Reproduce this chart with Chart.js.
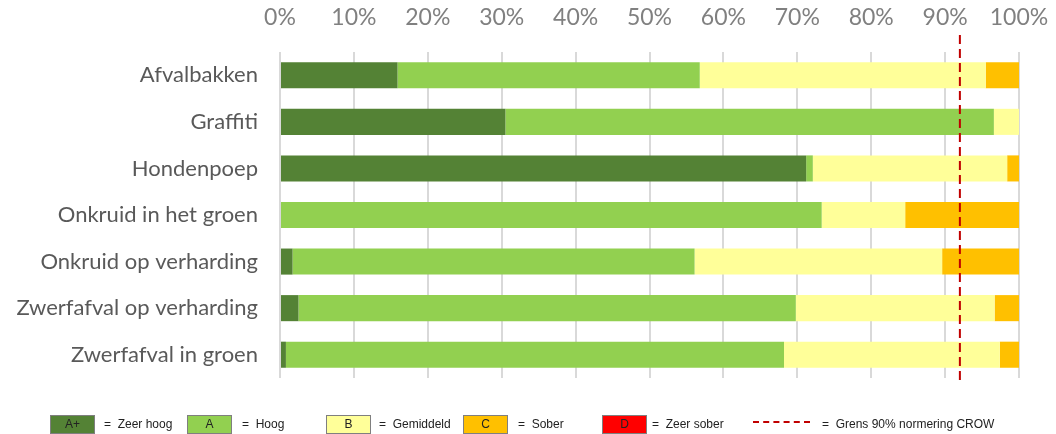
<!DOCTYPE html>
<html>
<head>
<meta charset="utf-8">
<script src="https://cdn.jsdelivr.net/npm/chart.js@4"></script>
<style>
  body { margin: 0; background: #fff; }
  #wrap { position: relative; width: 1056px; height: 434px; }
  .legend { position: absolute; top: 415px; height: 18px; font-family: "Liberation Sans", Arial, sans-serif; font-size: 12px; color: #222; }
  .box { position: absolute; top: 0; width: 43px; height: 17px; border: 1px solid #7f7f7f; text-align: center; line-height: 17px; }
  .txt { position: absolute; top: 0; line-height: 18px; white-space: nowrap; }
  .dash { position: absolute; top: 6px; width: 57px; border-top: 2px dashed #c00000; }
</style>
</head>
<body>
<div id="wrap">
  <canvas id="chart" width="1056" height="434"></canvas>
  <div class="legend" style="left:0;width:1056px">
    <div class="box" style="left:50px;background:#548235">A+</div>
    <div class="txt" style="left:104px">=&nbsp;&nbsp;Zeer hoog</div>
    <div class="box" style="left:187px;background:#92d050">A</div>
    <div class="txt" style="left:242px">=&nbsp;&nbsp;Hoog</div>
    <div class="box" style="left:326px;background:#ffff99">B</div>
    <div class="txt" style="left:379px">=&nbsp;&nbsp;Gemiddeld</div>
    <div class="box" style="left:463px;background:#ffc000">C</div>
    <div class="txt" style="left:518px">=&nbsp;&nbsp;Sober</div>
    <div class="box" style="left:602px;background:#ff0000">D</div>
    <div class="txt" style="left:652px">=&nbsp;&nbsp;Zeer sober</div>
    <div class="dash" style="left:753px"></div>
    <div class="txt" style="left:822px">=&nbsp;&nbsp;Grens 90% normering CROW</div>
  </div>
</div>
<script>
const categories = [
  "Afvalbakken",
  "Graffiti",
  "Hondenpoep",
  "Onkruid in het groen",
  "Onkruid op verharding",
  "Zwerfafval op verharding",
  "Zwerfafval in groen",
];

// percentages per score
const zeerHoog = [15.9, 30.5, 71.2, 0, 1.7, 2.5, 0.8];
const hoog = [40.9, 66.1, 0.9, 73.3, 54.4, 67.3, 67.4];
const gemiddeld = [38.7, 3.4, 26.3, 11.3, 33.5, 26.9, 29.2];
const sober = [4.5, 0, 1.6, 15.4, 10.4, 3.3, 2.6];
const zeerSober = [0, 0, 0, 0, 0, 0, 0];

const xTicks = [0, 10, 20, 30, 40, 50, 60, 70, 80, 90, 100];
const normLine = 92;

const COLORS = {
  aplus: "#548235",
  a: "#92d050",
  b: "#ffff99",
  c: "#ffc000",
  d: "#ff0000",
  grid: "#d9d9d9",
  tick: "#808080",
  label: "#595959",
  norm: "#c00000",
};

const FONT = "Lato, 'Open Sans', sans-serif";

function series(label, data, color) {
  return {
    label,
    data,
    backgroundColor: color,
    borderWidth: 0,
    barPercentage: 1,
    categoryPercentage: 0.56,
  };
}

const normPlugin = {
  id: "normLine",
  afterDatasetsDraw(chart) {
    const x = chart.scales.x.getPixelForValue(normLine);
    const c = chart.ctx;
    c.save();
    c.strokeStyle = COLORS.norm;
    c.lineWidth = 2;
    c.setLineDash([9, 5]);
    c.beginPath();
    c.moveTo(x, 35);
    c.lineTo(x, 382);
    c.stroke();
    c.restore();
  },
};

new Chart(document.getElementById("chart"), {
  type: "bar",
  data: {
    labels: categories,
    datasets: [
      series("A+", zeerHoog, COLORS.aplus),
      series("A", hoog, COLORS.a),
      series("B", gemiddeld, COLORS.b),
      series("C", sober, COLORS.c),
      series("D", zeerSober, COLORS.d),
    ],
  },
  options: {
    indexAxis: "y",
    responsive: false,
    animation: false,
    layout: { padding: { top: 0, right: 37, bottom: 56, left: 0 } },
    plugins: { legend: { display: false }, tooltip: { enabled: false } },
    scales: {
      x: {
        position: "top",
        stacked: true,
        min: 0,
        max: 100,
        afterFit(scale) {
          scale.height = 52;
          scale.paddingLeft = 0;
          scale.paddingRight = 0;
        },
        afterBuildTicks(scale) { scale.ticks = xTicks.map((v) => ({ value: v })); },
        grid: { color: COLORS.grid, lineWidth: 2, drawTicks: false },
        border: { display: false },
        ticks: {
          color: COLORS.tick,
          font: { family: FONT, size: 23 },
          padding: 21,
          maxRotation: 0,
          callback: (v) => v + "%",
        },
      },
      y: {
        stacked: true,
        afterFit(scale) { scale.width = 280; },
        grid: { display: false, drawTicks: false },
        border: { display: false },
        ticks: {
          color: COLORS.label,
          font: { family: FONT, size: 22 },
          padding: 22,
        },
      },
    },
  },
  plugins: [normPlugin],
});
</script>
</body>
</html>
